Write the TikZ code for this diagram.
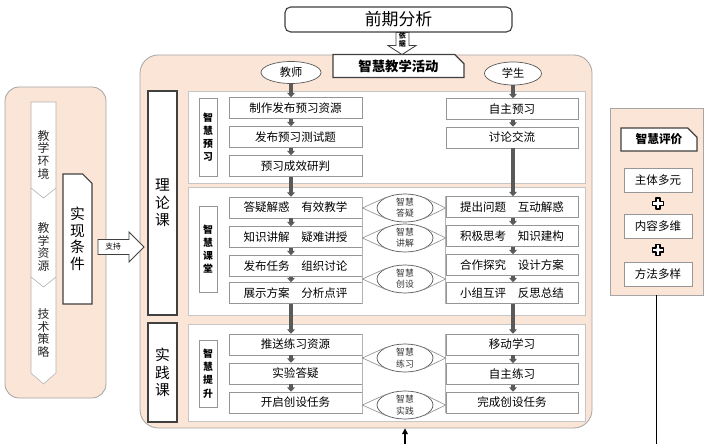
\documentclass[tikz,border=0pt]{standalone}
\usepackage{fontspec}
\setmainfont{Noto Sans CJK SC}
\usepackage{tikz}
\usetikzlibrary{shapes.geometric,shapes.misc,arrows.meta,calc}

\definecolor{peach}{RGB}{251,229,214}
\definecolor{rimgray}{RGB}{166,166,166}
\definecolor{boxgray}{RGB}{150,150,150}
\definecolor{darkrim}{RGB}{64,64,64}
\definecolor{arrgray}{RGB}{90,90,90}

\newcommand{\pxl}{0.025cm}

\tikzset{
  sz/.style 2 args={minimum width=#1*\pxl, minimum height=#2*\pxl, inner sep=0pt},
  panel/.style={draw=rimgray, fill=peach, line width=0.6pt},
  section/.style={draw=gray!45, fill=white, line width=0.5pt},
  stepbox/.style={draw=boxgray, fill=white, line width=0.5pt, font=\fontsize{8.2}{10}\selectfont},
  tagbox/.style={draw=boxgray, fill=white, line width=0.5pt, align=center, font=\bfseries\fontsize{7}{9.4}\selectfont},
  coursebox/.style={draw=darkrim, fill=white, line width=0.8pt, align=center, font=\fontsize{10.5}{12.5}\selectfont},
  snipbox/.style={chamfered rectangle, chamfered rectangle corners=north east, chamfered rectangle xsep=3pt, draw=darkrim, fill=white, line width=0.8pt},
  role/.style={ellipse, draw=gray!70!black, fill=white, line width=0.5pt, font=\fontsize{8}{9}\selectfont},
  smart/.style={ellipse, draw=gray!70!black, fill=white, line width=0.5pt, sz={56}{28}, align=center, font=\fontsize{6.3}{8}\selectfont, text=black!80},
  striptext/.style={align=center, inner sep=0pt, font=\fontsize{8.4}{9.2}\selectfont, text=black!85},
  wedge/.style={draw=gray!80, line width=0.5pt},
  darr/.style={draw=arrgray, line width=2.2pt, -{Triangle[width=5.5pt,length=3pt]}},
  hollow/.style={draw=darkrim, fill=white, line width=0.6pt},
  plusmark/.style={draw=black, fill=white, line width=1.1pt, line join=round},
}

\begin{document}
\begin{tikzpicture}[x=\pxl, y=-\pxl]
    \useasboundingbox (0,0) rectangle (708,444);

    % Hintergrundflaechen
        \node[panel, rounded corners=10pt, sz={101}{311}] (cond) at (55.5,242.5) {};
        \node[panel, rounded corners=13pt, sz={452}{373}] (main) at (366,241.5) {};
        \node[panel, sz={93}{187}] (evalp) at (656.5,201.5) {};

    % Kopf
        \node[draw=darkrim, fill=white, line width=0.8pt, rounded corners=4pt, sz={227}{25}, font=\fontsize{12}{14}\selectfont] (pre) at (398.5,19.5) {前期分析};
        \node[snipbox, sz={131}{22}, font=\bfseries\fontsize{9.5}{11}\selectfont] (act) at (398.5,66) {智慧教学活动};
        \draw[hollow] ($(pre.south)+(-2.5,0)$) -- ++(13,0) -- ++(0,13) -- ++(7,0) -- ++(-14,9) -- ++(-14,-9) -- ++(8,0) -- cycle;
        \node[align=center, inner sep=0pt, font=\bfseries\fontsize{5}{6}\selectfont] (yj) at (402.5,40) {依\\据};

    % Abschnitte
        \node[section, sz={397}{92}] (sec1) at (386.5,137) {};
        \node[section, sz={397}{128}] (sec2) at (386.5,251) {};
        \node[section, sz={397}{97}] (sec3) at (386.5,372.5) {};

        \node[coursebox, sz={29}{224}] (theory) at (162.5,203) {理\\论\\课};
        \node[coursebox, sz={29}{99}] (practice) at (162.5,372.5) {实\\践\\课};

        \node[tagbox, sz={18}{78}] (tag1) at (208,137) {智\\慧\\预\\习};
        \node[tagbox, sz={18}{86}] (tag2) at (208,249) {智\\慧\\课\\堂};
        \node[tagbox, sz={18}{67}] (tag3) at (208,373.5) {智\\慧\\提\\升};

    % Lehrer / Schueler
        \node[role, sz={60}{22}] (teacher) at (291,72.5) {教师};
        \node[role, sz={57}{23}] (student) at (513,73.5) {学生};

        \node[stepbox, sz={133}{21}] (t1) at (295.5,108) {制作发布预习资源};
        \node[stepbox, sz={133}{21}] (t2) at (295.5,137) {发布预习测试题};
        \node[stepbox, sz={133}{21}] (t3) at (295.5,166) {预习成效研判};
        \node[stepbox, sz={133}{21}] (t4) at (295.5,207.5) {答疑解惑\quad 有效教学};
        \node[stepbox, sz={133}{21}] (t5) at (295.5,237) {知识讲解\quad 疑难讲授};
        \node[stepbox, sz={133}{21}] (t6) at (295.5,266) {发布任务\quad 组织讨论};
        \node[stepbox, sz={133}{21}] (t7) at (295.5,293) {展示方案\quad 分析点评};
        \node[stepbox, sz={133}{21}] (t8) at (295.5,344.5) {推送练习资源};
        \node[stepbox, sz={133}{21}] (t9) at (295.5,373.5) {实验答疑};
        \node[stepbox, sz={133}{21}] (t10) at (295.5,402.5) {开启创设任务};

        \node[stepbox, sz={132}{21}] (s1) at (512,109) {自主预习};
        \node[stepbox, sz={132}{21}] (s2) at (512,137.5) {讨论交流};
        \node[stepbox, sz={132}{21}] (s3) at (512,207) {提出问题\quad 互动解惑};
        \node[stepbox, sz={132}{21}] (s4) at (512,236) {积极思考\quad 知识建构};
        \node[stepbox, sz={132}{21}] (s5) at (512,265) {合作探究\quad 设计方案};
        \node[stepbox, sz={132}{21}] (s6) at (512,293) {小组互评\quad 反思总结};
        \node[stepbox, sz={132}{21}] (s7) at (512,344.5) {移动学习};
        \node[stepbox, sz={132}{21}] (s8) at (512,374) {自主练习};
        \node[stepbox, sz={132}{21}] (s9) at (512,402.5) {完成创设任务};

        \draw[gray!60] (t4.north east) -- (t7.south east);
        \draw[gray!60] (s3.north west) -- (s6.south west);
        \draw[gray!60] (t8.north east) -- (t10.south east);
        \draw[gray!60] (s7.north west) -- (s9.south west);

    % Pfeile
        \draw[darr] (teacher.south) -- (teacher.south |- t1.north);
        \foreach \a/\b in {t1/t2,t2/t3,t3/t4,t4/t5,t5/t6,t6/t7,t7/t8,t8/t9,t9/t10}
            \draw[darr] (teacher.south |- \a.south) -- (teacher.south |- \b.north);
        \draw[darr] (student.south) -- (student.south |- s1.north);
        \foreach \a/\b in {s1/s2,s2/s3,s3/s4,s4/s5,s5/s6,s6/s7,s7/s8,s8/s9}
            \draw[darr] (student.south |- \a.south) -- (student.south |- \b.north);

    % Verbindungen Mitte
        \node[smart] (dy) at (405,208) {智慧\\答疑};
        \node[smart] (jj) at (405,238) {智慧\\讲解};
        \node[smart] (cs) at (405,279) {智慧\\创设};
        \node[smart] (lx) at (405,358) {智慧\\练习};
        \node[smart] (sj) at (405,405) {智慧\\实践};
        \foreach \e/\l/\r in {dy/t4/s3, jj/t5/s4, cs/t6/s5, lx/t8/s7, sj/t10/s9} {
            \draw[wedge] (\e.150) -- (\e.west -| \l.east) -- (\e.210);
            \draw[wedge] (\e.30) -- (\e.east -| \r.west) -- (\e.-30);
        }

    % Realisierungsbedingungen
        \draw[draw=gray!60, fill=white] (31,102) -- (56,102) -- (56,373) -- (43.5,384) -- (31,373) -- cycle;
        \draw[draw=gray!60] (31,188) -- (43.5,198) -- (56,188);
        \draw[draw=gray!60] (31,277) -- (43.5,287) -- (56,277);
        \node[striptext] (env) at (43.5,155) {教\\学\\环\\境};
        \node[striptext] (res) at (43.5,247) {教\\学\\资\\源};
        \node[striptext] (tec) at (43.5,333) {技\\术\\策\\略};
        \node[snipbox, sz={29}{130}, align=center, font=\fontsize{10.5}{11.8}\selectfont] (real) at (77.5,239) {实\\现\\条\\件};
        \coordinate (zcbase) at (98,239.5);
        \draw[hollow] (zcbase) -- ++(31,0) -- ++(0,-7.5) -- ++(15,15) -- ++(-15,15) -- ++(0,-7.5) -- ++(-31,0) -- cycle;
        \node[font=\fontsize{5.5}{6}\selectfont, inner sep=0pt] (zc) at (113,247) {支持};

    % Bewertung
        \node[snipbox, sz={76}{23}, font=\bfseries\fontsize{8.3}{10}\selectfont] (evalt) at (659,139.5) {智慧评价};
        \node[stepbox, sz={68}{24}] (ev1) at (658,180) {主体多元};
        \node[stepbox, sz={68}{24}] (ev2) at (658,226.5) {内容多维};
        \node[stepbox, sz={68}{24}] (ev3) at (658,274) {方法多样};
        \coordinate (pl1) at (658,203.5);
        \coordinate (pl2) at (658,250);
        \foreach \p in {pl1,pl2}
            \draw[plusmark] (\p) ++(-2,-5.5) -- ++(4,0) -- ++(0,3.5) -- ++(3.5,0) -- ++(0,4) -- ++(-3.5,0) -- ++(0,3.5) -- ++(-4,0) -- ++(0,-3.5) -- ++(-3.5,0) -- ++(0,-4) -- ++(3.5,0) -- cycle;

    % Rueckkopplung
        \coordinate (evend) at (656.5,444);
        \draw[line width=0.8pt] (evalp.south) -- (evend);
        \coordinate (fb) at (405,444);
        \draw[line width=0.8pt, -{Triangle[width=4pt,length=4pt]}] (fb) -- (fb |- main.south);
\end{tikzpicture}
\end{document}
